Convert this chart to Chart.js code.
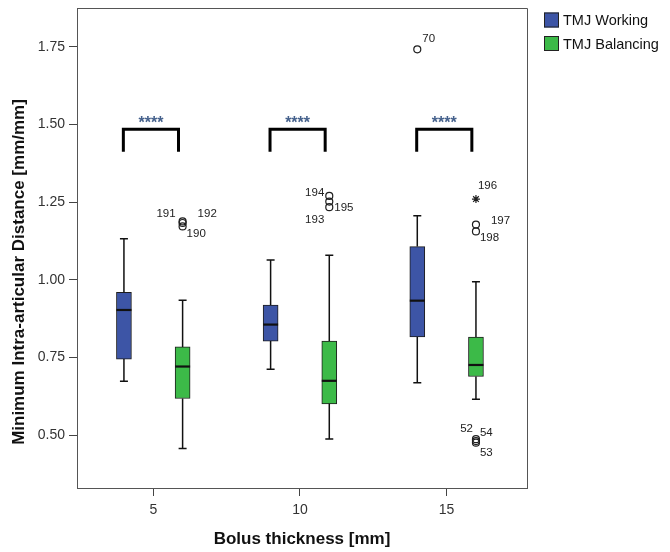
<!DOCTYPE html>
<html>
<head>
    <title>Minimum Intra-articular Distance</title>
    <script src="https://cdn.jsdelivr.net/npm/chart.js"></script>
    <style>
        body { margin: 0; background: #fff; }
        #chartDiv { width: 670px; height: 552px; }
    </style>
</head>
<body>
    <div id="chartDiv"><canvas id="boxChart"></canvas></div>
    <script>
        // bolus thickness groups and y tick labels
        var categories = [5, 10, 15];
        var yTicks = [0.50, 0.75, 1.00, 1.25, 1.50, 1.75];

        // TMJ Working box statistics
        var workingMin = [0.674, 0.712, 0.669];
        var workingQ1 = [0.745, 0.803, 0.816];
        var workingMedian = [0.903, 0.856, 0.933];
        var workingQ3 = [0.960, 0.919, 1.107];
        var workingMax = [1.132, 1.064, 1.206];

        // TMJ Balancing box statistics
        var balancingMin = [0.457, 0.488, 0.616];
        var balancingQ1 = [0.618, 0.601, 0.689];
        var balancingMedian = [0.721, 0.675, 0.726];
        var balancingQ3 = [0.784, 0.803, 0.816];
        var balancingMax = [0.934, 1.079, 0.994];

        // outliers (series 0 = working, 1 = balancing)
        var outlierCategory = [5, 5, 5, 10, 10, 10, 15, 15, 15, 15, 15, 15, 15];
        var outlierSeries = [1, 1, 1, 1, 1, 1, 0, 1, 1, 1, 1, 1, 1];
        var outlierValue = [1.188, 1.183, 1.172, 1.270, 1.252, 1.234, 1.742, 1.260, 1.178, 1.156, 0.487, 0.481, 0.476];
        var outlierCase = ['191', '192', '190', '194', '195', '193', '70', '196', '197', '198', '52', '54', '53'];
        var outlierExtreme = [false, false, false, false, false, false, false, true, false, false, false, false, false];

        // significance bracket per group
        var sigLabel = ['****', '****', '****'];
        var bracketTop = 1.485;
        var bracketBottom = 1.412;

        var yTitle = 'Minimum Intra-articular Distance [mm/mm]';

        // label placement next to each outlier: [dx, dy, align]
        var labelPlace = [
            [-7, -8, 'right'], [15, -9, 'left'], [4, 7, 'left'],
            [-5, -3, 'right'], [5, 6, 'left'], [-5, 13, 'right'],
            [5, -10, 'left'], [2, -13, 'left'], [15, -4, 'left'], [4, 6, 'left'],
            [-3, -10, 'right'], [4, -8, 'left'], [4, 10, 'left']
        ];

        var blue = '#3d55a6';
        var green = '#3cba48';
        var seriesOffset = [-1, 1];
        var boxes = [
            {min: workingMin, q1: workingQ1, med: workingMedian, q3: workingQ3, max: workingMax},
            {min: balancingMin, q1: balancingQ1, med: balancingMedian, q3: balancingQ3, max: balancingMax}
        ];

        Chart.defaults.font.family = "'Liberation Sans', Arial, sans-serif";
        Chart.defaults.color = '#333';

        function boxData(s) {
            return categories.map(function (c, i) {
                return {x: c + seriesOffset[s], y: [boxes[s].q1[i], boxes[s].q3[i]]};
            });
        }

        function bracketData(i) {
            var c = categories[i];
            return [
                {x: c - 1.02, y: bracketBottom}, {x: c - 1.02, y: bracketTop},
                {x: c + 0.86, y: bracketTop}, {x: c + 0.86, y: bracketBottom}
            ];
        }

        var outlierPoints = outlierValue.map(function (v, i) {
            return {x: outlierCategory[i] + seriesOffset[outlierSeries[i]], y: v};
        });

        var datasets = [
            {type: 'bar', label: 'TMJ Working', data: boxData(0), backgroundColor: blue,
             borderColor: '#1e1e1e', borderWidth: 1, borderSkipped: false, barThickness: 15, grouped: false},
            {type: 'bar', label: 'TMJ Balancing', data: boxData(1), backgroundColor: green,
             borderColor: '#1e1e1e', borderWidth: 1, borderSkipped: false, barThickness: 15, grouped: false},
            {type: 'scatter', label: 'outliers', data: outlierPoints,
             pointStyle: function (ctx) { return outlierExtreme[ctx.dataIndex] ? 'star' : 'circle'; },
             pointRadius: function (ctx) { return outlierExtreme[ctx.dataIndex] ? 4 : 3.5; },
             backgroundColor: 'rgba(0,0,0,0)', borderColor: '#1e1e1e', borderWidth: 1.2}
        ];
        for (var b = 0; b < categories.length; b++) {
            datasets.push({type: 'line', label: 'bracket', data: bracketData(b), borderColor: '#000',
                borderWidth: 3, pointRadius: 0, fill: false, tension: 0, borderJoinStyle: 'miter'});
        }

        var extrasPlugin = {
            id: 'boxExtras',
            afterDatasetsDraw: function (chart) {
                var ctx = chart.ctx, xs = chart.scales.x, ys = chart.scales.y, area = chart.chartArea;
                ctx.save();

                // top and right frame
                ctx.strokeStyle = '#555';
                ctx.lineWidth = 1;
                ctx.beginPath();
                ctx.moveTo(area.left, area.top + 0.5);
                ctx.lineTo(area.right + 0.5, area.top + 0.5);
                ctx.lineTo(area.right + 0.5, area.bottom);
                ctx.stroke();

                // whiskers and medians
                ctx.strokeStyle = '#111';
                boxes.forEach(function (bx, s) {
                    for (var i = 0; i < categories.length; i++) {
                        var x = xs.getPixelForValue(categories[i] + seriesOffset[s]);
                        var yMin = ys.getPixelForValue(bx.min[i]);
                        var yMax = ys.getPixelForValue(bx.max[i]);
                        var yQ1 = ys.getPixelForValue(bx.q1[i]);
                        var yQ3 = ys.getPixelForValue(bx.q3[i]);
                        var yMed = ys.getPixelForValue(bx.med[i]);
                        ctx.lineWidth = 1.5;
                        ctx.beginPath();
                        ctx.moveTo(x, yQ1); ctx.lineTo(x, yMin);
                        ctx.moveTo(x, yQ3); ctx.lineTo(x, yMax);
                        ctx.moveTo(x - 4, yMin); ctx.lineTo(x + 4, yMin);
                        ctx.moveTo(x - 4, yMax); ctx.lineTo(x + 4, yMax);
                        ctx.stroke();
                        ctx.lineWidth = 2.2;
                        ctx.beginPath();
                        ctx.moveTo(x - 7.5, yMed); ctx.lineTo(x + 7.5, yMed);
                        ctx.stroke();
                    }
                });

                // outlier case numbers
                ctx.fillStyle = '#222';
                ctx.font = "11.5px 'Liberation Sans', Arial, sans-serif";
                ctx.textBaseline = 'middle';
                outlierPoints.forEach(function (p, i) {
                    var px = xs.getPixelForValue(p.x), py = ys.getPixelForValue(p.y);
                    ctx.textAlign = labelPlace[i][2];
                    ctx.fillText(outlierCase[i], px + labelPlace[i][0], py + labelPlace[i][1]);
                });

                // significance stars
                ctx.fillStyle = '#45618c';
                ctx.font = "bold 16px 'Liberation Sans', Arial, sans-serif";
                ctx.textAlign = 'center';
                ctx.textBaseline = 'alphabetic';
                categories.forEach(function (c, i) {
                    var cx = (xs.getPixelForValue(c - 1.02) + xs.getPixelForValue(c + 0.86)) / 2;
                    ctx.fillText(sigLabel[i], cx, ys.getPixelForValue(bracketTop) - 1.5);
                });

                // y axis title, sits a little below the axis centre
                ctx.save();
                ctx.translate(19, 272);
                ctx.rotate(-Math.PI / 2);
                ctx.fillStyle = '#111';
                ctx.font = "bold 17px 'Liberation Sans', Arial, sans-serif";
                ctx.textAlign = 'center';
                ctx.textBaseline = 'middle';
                ctx.fillText(yTitle, 0, 0);
                ctx.restore();

                // legend
                var lx = area.right + 17;
                var items = [[datasets[0].label, blue], [datasets[1].label, green]];
                ctx.font = "14.5px 'Liberation Sans', Arial, sans-serif";
                ctx.textAlign = 'left';
                ctx.textBaseline = 'middle';
                items.forEach(function (it, k) {
                    var ly = 12.5 + k * 23.5;
                    ctx.fillStyle = it[1];
                    ctx.fillRect(lx, ly, 15, 15);
                    ctx.strokeStyle = '#222';
                    ctx.lineWidth = 1;
                    ctx.strokeRect(lx + 0.5, ly + 0.5, 14, 14);
                    ctx.fillStyle = '#111';
                    ctx.fillText(it[0], lx + 19, ly + 8.5);
                });

                ctx.restore();
            }
        };

        var chart = new Chart(document.getElementById('boxChart'), {
            data: {datasets: datasets},
            plugins: [extrasPlugin],
            options: {
                responsive: true,
                maintainAspectRatio: false,
                animation: false,
                layout: {padding: {top: 8, right: 143, left: 0, bottom: 0}},
                plugins: {legend: {display: false}, tooltip: {enabled: false}},
                scales: {
                    x: {
                        type: 'linear', min: 2.4, max: 17.74, offset: false,
                        afterBuildTicks: function (scale) {
                            scale.ticks = categories.map(function (c) { return {value: c}; });
                        },
                        afterFit: function (scale) {
                            scale.height = 64;
                            scale.paddingLeft = 0;
                            scale.paddingRight = 0;
                        },
                        ticks: {font: {size: 14}, color: '#333', padding: 6},
                        grid: {offset: false, drawOnChartArea: false, drawTicks: true, tickLength: 8, tickColor: '#444'},
                        border: {display: true, color: '#555', width: 1},
                        title: {display: true, text: 'Bolus thickness [mm]', color: '#111',
                                font: {size: 17, weight: 'bold'}, padding: {top: 0, bottom: 2}}
                    },
                    y: {
                        type: 'linear', min: 0.33, max: 1.875,
                        afterBuildTicks: function (scale) {
                            scale.ticks = yTicks.map(function (v) { return {value: v}; });
                        },
                        afterFit: function (scale) {
                            scale.width = 77;
                            scale.paddingTop = 0;
                            scale.paddingBottom = 0;
                        },
                        ticks: {font: {size: 14}, color: '#333', padding: 4,
                                callback: function (v) { return Number(v).toFixed(2); }},
                        grid: {drawOnChartArea: false, drawTicks: true, tickLength: 8, tickColor: '#444'},
                        border: {display: true, color: '#555', width: 1}
                    }
                }
            }
        });
    </script>
</body>
</html>
